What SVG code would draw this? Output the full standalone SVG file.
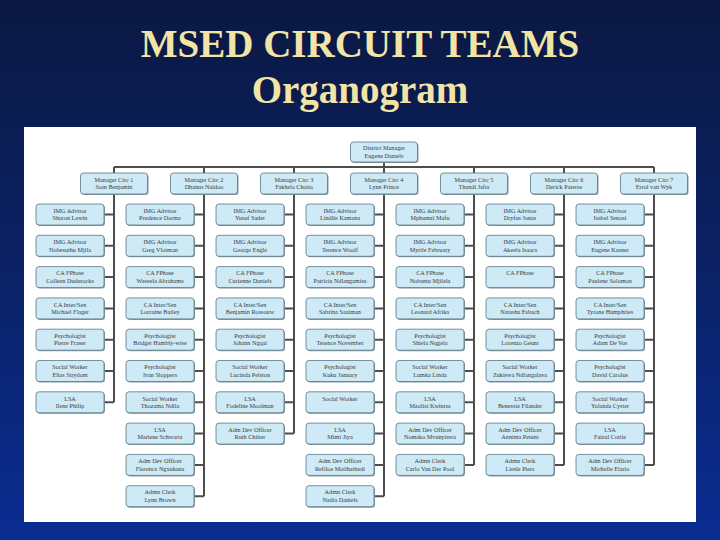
<svg xmlns="http://www.w3.org/2000/svg" width="720" height="540" viewBox="0 0 720 540">
<defs>
<linearGradient id="bg" x1="0" y1="0" x2="0" y2="1">
<stop offset="0" stop-color="#0a1842"/>
<stop offset="0.5" stop-color="#0b2266"/>
<stop offset="1" stop-color="#0a2c92"/>
</linearGradient>
<style>
.b{fill:#cdeaf6;stroke:#5b7784;stroke-width:0.8}
.s{fill:#8a9aa2}
.t{font-family:"Liberation Serif","Times New Roman",serif;font-size:6.2px;fill:#3a3a3a;text-anchor:middle}
.title{font-family:"Liberation Serif","Times New Roman",serif;font-weight:bold;font-size:39px;fill:#f2e4a6;text-anchor:middle}
.ln{fill:none;stroke:#4d4d4d;stroke-width:2}
</style>
</defs>
<rect width="720" height="540" fill="url(#bg)"/>
<text class="title" x="360" y="57">MSED CIRCUIT TEAMS</text>
<text class="title" x="360" y="103">Organogram</text>
<rect x="24" y="127" width="672" height="395" fill="#ffffff"/>

<g id="connectors">
<path class="ln" d="M114 167H654M384 162V167"/>
<path class="ln" d="M114 167V402.3M204 167V496.2M294 167V433.6M384 167V496.2M474 167V464.9M564 167V464.9M654 167V464.9"/>
<path class="ln" d="M104 214.5H114M104 245.8H114M104 277.1H114M104 308.4H114M104 339.7H114M104 371H114M104 402.3H114"/>
<path class="ln" d="M194 214.5H204M194 245.8H204M194 277.1H204M194 308.4H204M194 339.7H204M194 371H204M194 402.3H204M194 433.6H204M194 464.9H204M194 496.2H204"/>
<path class="ln" d="M284 214.5H294M284 245.8H294M284 277.1H294M284 308.4H294M284 339.7H294M284 371H294M284 402.3H294M284 433.6H294"/>
<path class="ln" d="M374 214.5H384M374 245.8H384M374 277.1H384M374 308.4H384M374 339.7H384M374 371H384M374 402.3H384M374 433.6H384M374 464.9H384M374 496.2H384"/>
<path class="ln" d="M464 214.5H474M464 245.8H474M464 277.1H474M464 308.4H474M464 339.7H474M464 371H474M464 402.3H474M464 433.6H474M464 464.9H474"/>
<path class="ln" d="M554 214.5H564M554 245.8H564M554 277.1H564M554 308.4H564M554 339.7H564M554 371H564M554 402.3H564M554 433.6H564M554 464.9H564"/>
<path class="ln" d="M644 214.5H654M644 245.8H654M644 277.1H654M644 308.4H654M644 339.7H654M644 371H654M644 402.3H654M644 433.6H654M644 464.9H654"/>
</g>

<g id="district" transform="translate(350.5,142)"><rect class="s" x="1" y="1" width="67" height="20" rx="3"/><rect class="b" width="67" height="20" rx="3"/><text class="t" x="33.5" y="8.3">District Manager</text><text class="t" x="33.5" y="15.8">Eugene Daniels</text></g>

<g id="m1" transform="translate(80.5,173)"><rect class="s" x="1" y="1" width="67" height="21" rx="3"/><rect class="b" width="67" height="21" rx="3"/><text class="t" x="33.5" y="8.8">Manager Circ 1</text><text class="t" x="33.5" y="16.3">Joan Benjamin</text></g>
<g id="m2" transform="translate(170.5,173)"><rect class="s" x="1" y="1" width="67" height="21" rx="3"/><rect class="b" width="67" height="21" rx="3"/><text class="t" x="33.5" y="8.8">Manager Circ 2</text><text class="t" x="33.5" y="16.3">Dhanus Naidoo</text></g>
<g id="m3" transform="translate(260.5,173)"><rect class="s" x="1" y="1" width="67" height="21" rx="3"/><rect class="b" width="67" height="21" rx="3"/><text class="t" x="33.5" y="8.8">Manager Circ 3</text><text class="t" x="33.5" y="16.3">Fakhela Chotia</text></g>
<g id="m4" transform="translate(350.5,173)"><rect class="s" x="1" y="1" width="67" height="21" rx="3"/><rect class="b" width="67" height="21" rx="3"/><text class="t" x="33.5" y="8.8">Manager Circ 4</text><text class="t" x="33.5" y="16.3">Lynn Prince</text></g>
<g id="m5" transform="translate(440.5,173)"><rect class="s" x="1" y="1" width="67" height="21" rx="3"/><rect class="b" width="67" height="21" rx="3"/><text class="t" x="33.5" y="8.8">Manager Circ 5</text><text class="t" x="33.5" y="16.3">Thandi Jafta</text></g>
<g id="m6" transform="translate(530.5,173)"><rect class="s" x="1" y="1" width="67" height="21" rx="3"/><rect class="b" width="67" height="21" rx="3"/><text class="t" x="33.5" y="8.8">Manager Circ 6</text><text class="t" x="33.5" y="16.3">Derick Paterse</text></g>
<g id="m7" transform="translate(620.5,173)"><rect class="s" x="1" y="1" width="67" height="21" rx="3"/><rect class="b" width="67" height="21" rx="3"/><text class="t" x="33.5" y="8.8">Manager Circ 7</text><text class="t" x="33.5" y="16.3">Errol van Wyk</text></g>

<!-- Column 1 -->
<g id="c1r1" transform="translate(36,204)"><rect class="s" x="1" y="1" width="68" height="21" rx="3"/><rect class="b" width="68" height="21" rx="3"/><text class="t" x="34" y="8.8">IMG Advisor</text><text class="t" x="34" y="16.3">Sharon Lewin</text></g>
<g id="c1r2" transform="translate(36,235.3)"><rect class="s" x="1" y="1" width="68" height="21" rx="3"/><rect class="b" width="68" height="21" rx="3"/><text class="t" x="34" y="8.8">IMG Advisor</text><text class="t" x="34" y="16.3">Nobesuthu Mjila</text></g>
<g id="c1r3" transform="translate(36,266.6)"><rect class="s" x="1" y="1" width="68" height="21" rx="3"/><rect class="b" width="68" height="21" rx="3"/><text class="t" x="34" y="8.8">CA FPhase</text><text class="t" x="34" y="16.3">Colleen Duderocks</text></g>
<g id="c1r4" transform="translate(36,297.9)"><rect class="s" x="1" y="1" width="68" height="21" rx="3"/><rect class="b" width="68" height="21" rx="3"/><text class="t" x="34" y="8.8">CA Inter/Sen</text><text class="t" x="34" y="16.3">Michael Flager</text></g>
<g id="c1r5" transform="translate(36,329.2)"><rect class="s" x="1" y="1" width="68" height="21" rx="3"/><rect class="b" width="68" height="21" rx="3"/><text class="t" x="34" y="8.8">Psychologist</text><text class="t" x="34" y="16.3">Pierre Fraser</text></g>
<g id="c1r6" transform="translate(36,360.5)"><rect class="s" x="1" y="1" width="68" height="21" rx="3"/><rect class="b" width="68" height="21" rx="3"/><text class="t" x="34" y="8.8">Social Worker</text><text class="t" x="34" y="16.3">Elias Strydom</text></g>
<g id="c1r7" transform="translate(36,391.8)"><rect class="s" x="1" y="1" width="68" height="21" rx="3"/><rect class="b" width="68" height="21" rx="3"/><text class="t" x="34" y="8.8">LSA</text><text class="t" x="34" y="16.3">Ilene Philip</text></g>

<!-- Column 2 -->
<g id="c2r1" transform="translate(126,204)"><rect class="s" x="1" y="1" width="68" height="21" rx="3"/><rect class="b" width="68" height="21" rx="3"/><text class="t" x="34" y="8.8">IMG Advisor</text><text class="t" x="34" y="16.3">Prudence Dorma</text></g>
<g id="c2r2" transform="translate(126,235.3)"><rect class="s" x="1" y="1" width="68" height="21" rx="3"/><rect class="b" width="68" height="21" rx="3"/><text class="t" x="34" y="8.8">IMG Advisor</text><text class="t" x="34" y="16.3">Greg Vlotman</text></g>
<g id="c2r3" transform="translate(126,266.6)"><rect class="s" x="1" y="1" width="68" height="21" rx="3"/><rect class="b" width="68" height="21" rx="3"/><text class="t" x="34" y="8.8">CA FPhase</text><text class="t" x="34" y="16.3">Waseela Abrahams</text></g>
<g id="c2r4" transform="translate(126,297.9)"><rect class="s" x="1" y="1" width="68" height="21" rx="3"/><rect class="b" width="68" height="21" rx="3"/><text class="t" x="34" y="8.8">CA Inter/Sen</text><text class="t" x="34" y="16.3">Lorraine Bailey</text></g>
<g id="c2r5" transform="translate(126,329.2)"><rect class="s" x="1" y="1" width="68" height="21" rx="3"/><rect class="b" width="68" height="21" rx="3"/><text class="t" x="34" y="8.8">Psychologist</text><text class="t" x="34" y="16.3">Bridget Hambly-wise</text></g>
<g id="c2r6" transform="translate(126,360.5)"><rect class="s" x="1" y="1" width="68" height="21" rx="3"/><rect class="b" width="68" height="21" rx="3"/><text class="t" x="34" y="8.8">Psychologist</text><text class="t" x="34" y="16.3">Ivan Sloppers</text></g>
<g id="c2r7" transform="translate(126,391.8)"><rect class="s" x="1" y="1" width="68" height="21" rx="3"/><rect class="b" width="68" height="21" rx="3"/><text class="t" x="34" y="8.8">Social Worker</text><text class="t" x="34" y="16.3">Thozama Ndila</text></g>
<g id="c2r8" transform="translate(126,423.1)"><rect class="s" x="1" y="1" width="68" height="21" rx="3"/><rect class="b" width="68" height="21" rx="3"/><text class="t" x="34" y="8.8">LSA</text><text class="t" x="34" y="16.3">Marlene Schwartz</text></g>
<g id="c2r9" transform="translate(126,454.4)"><rect class="s" x="1" y="1" width="68" height="21" rx="3"/><rect class="b" width="68" height="21" rx="3"/><text class="t" x="34" y="8.8">Adm Dev Officer</text><text class="t" x="34" y="16.3">Florence Ngxukana</text></g>
<g id="c2r10" transform="translate(126,485.7)"><rect class="s" x="1" y="1" width="68" height="21" rx="3"/><rect class="b" width="68" height="21" rx="3"/><text class="t" x="34" y="8.8">Admn Clerk</text><text class="t" x="34" y="16.3">Lynn Brown</text></g>

<!-- Column 3 -->
<g id="c3r1" transform="translate(216,204)"><rect class="s" x="1" y="1" width="68" height="21" rx="3"/><rect class="b" width="68" height="21" rx="3"/><text class="t" x="34" y="8.8">IMG Advisor</text><text class="t" x="34" y="16.3">Yusuf Sader</text></g>
<g id="c3r2" transform="translate(216,235.3)"><rect class="s" x="1" y="1" width="68" height="21" rx="3"/><rect class="b" width="68" height="21" rx="3"/><text class="t" x="34" y="8.8">IMG Advisor</text><text class="t" x="34" y="16.3">George Engle</text></g>
<g id="c3r3" transform="translate(216,266.6)"><rect class="s" x="1" y="1" width="68" height="21" rx="3"/><rect class="b" width="68" height="21" rx="3"/><text class="t" x="34" y="8.8">CA FPhase</text><text class="t" x="34" y="16.3">Curienne Daniels</text></g>
<g id="c3r4" transform="translate(216,297.9)"><rect class="s" x="1" y="1" width="68" height="21" rx="3"/><rect class="b" width="68" height="21" rx="3"/><text class="t" x="34" y="8.8">CA Inter/Sen</text><text class="t" x="34" y="16.3">Benjamin Rossouw</text></g>
<g id="c3r5" transform="translate(216,329.2)"><rect class="s" x="1" y="1" width="68" height="21" rx="3"/><rect class="b" width="68" height="21" rx="3"/><text class="t" x="34" y="8.8">Psychologist</text><text class="t" x="34" y="16.3">Johann Ngqai</text></g>
<g id="c3r6" transform="translate(216,360.5)"><rect class="s" x="1" y="1" width="68" height="21" rx="3"/><rect class="b" width="68" height="21" rx="3"/><text class="t" x="34" y="8.8">Social Worker</text><text class="t" x="34" y="16.3">Lucinda Pelston</text></g>
<g id="c3r7" transform="translate(216,391.8)"><rect class="s" x="1" y="1" width="68" height="21" rx="3"/><rect class="b" width="68" height="21" rx="3"/><text class="t" x="34" y="8.8">LSA</text><text class="t" x="34" y="16.3">Fodeline Moolman</text></g>
<g id="c3r8" transform="translate(216,423.1)"><rect class="s" x="1" y="1" width="68" height="21" rx="3"/><rect class="b" width="68" height="21" rx="3"/><text class="t" x="34" y="8.8">Adm Dev Officer</text><text class="t" x="34" y="16.3">Ruth Chitter</text></g>

<!-- Column 4 -->
<g id="c4r1" transform="translate(306,204)"><rect class="s" x="1" y="1" width="68" height="21" rx="3"/><rect class="b" width="68" height="21" rx="3"/><text class="t" x="34" y="8.8">IMG Advisor</text><text class="t" x="34" y="16.3">Lindile Kamana</text></g>
<g id="c4r2" transform="translate(306,235.3)"><rect class="s" x="1" y="1" width="68" height="21" rx="3"/><rect class="b" width="68" height="21" rx="3"/><text class="t" x="34" y="8.8">IMG Advisor</text><text class="t" x="34" y="16.3">Terence Woolf</text></g>
<g id="c4r3" transform="translate(306,266.6)"><rect class="s" x="1" y="1" width="68" height="21" rx="3"/><rect class="b" width="68" height="21" rx="3"/><text class="t" x="34" y="8.8">CA FPhase</text><text class="t" x="34" y="16.3">Patricia Ndlangamisa</text></g>
<g id="c4r4" transform="translate(306,297.9)"><rect class="s" x="1" y="1" width="68" height="21" rx="3"/><rect class="b" width="68" height="21" rx="3"/><text class="t" x="34" y="8.8">CA Inter/Sen</text><text class="t" x="34" y="16.3">Sabrina Saaiman</text></g>
<g id="c4r5" transform="translate(306,329.2)"><rect class="s" x="1" y="1" width="68" height="21" rx="3"/><rect class="b" width="68" height="21" rx="3"/><text class="t" x="34" y="8.8">Psychologist</text><text class="t" x="34" y="16.3">Terence November</text></g>
<g id="c4r6" transform="translate(306,360.5)"><rect class="s" x="1" y="1" width="68" height="21" rx="3"/><rect class="b" width="68" height="21" rx="3"/><text class="t" x="34" y="8.8">Psychologist</text><text class="t" x="34" y="16.3">Kuku January</text></g>
<g id="c4r7" transform="translate(306,391.8)"><rect class="s" x="1" y="1" width="68" height="21" rx="3"/><rect class="b" width="68" height="21" rx="3"/><text class="t" x="34" y="8.8">Social Worker</text></g>
<g id="c4r8" transform="translate(306,423.1)"><rect class="s" x="1" y="1" width="68" height="21" rx="3"/><rect class="b" width="68" height="21" rx="3"/><text class="t" x="34" y="8.8">LSA</text><text class="t" x="34" y="16.3">Mimi Jiya</text></g>
<g id="c4r9" transform="translate(306,454.4)"><rect class="s" x="1" y="1" width="68" height="21" rx="3"/><rect class="b" width="68" height="21" rx="3"/><text class="t" x="34" y="8.8">Adm Dev Officer</text><text class="t" x="34" y="16.3">Refiloe Motlhathedi</text></g>
<g id="c4r10" transform="translate(306,485.7)"><rect class="s" x="1" y="1" width="68" height="21" rx="3"/><rect class="b" width="68" height="21" rx="3"/><text class="t" x="34" y="8.8">Admn Clerk</text><text class="t" x="34" y="16.3">Nadia Daniels</text></g>

<!-- Column 5 -->
<g id="c5r1" transform="translate(396,204)"><rect class="s" x="1" y="1" width="68" height="21" rx="3"/><rect class="b" width="68" height="21" rx="3"/><text class="t" x="34" y="8.8">IMG Advisor</text><text class="t" x="34" y="16.3">Mphumzi Mafu</text></g>
<g id="c5r2" transform="translate(396,235.3)"><rect class="s" x="1" y="1" width="68" height="21" rx="3"/><rect class="b" width="68" height="21" rx="3"/><text class="t" x="34" y="8.8">IMG Advisor</text><text class="t" x="34" y="16.3">Myrtle February</text></g>
<g id="c5r3" transform="translate(396,266.6)"><rect class="s" x="1" y="1" width="68" height="21" rx="3"/><rect class="b" width="68" height="21" rx="3"/><text class="t" x="34" y="8.8">CA FPhase</text><text class="t" x="34" y="16.3">Nobantu Mjilela</text></g>
<g id="c5r4" transform="translate(396,297.9)"><rect class="s" x="1" y="1" width="68" height="21" rx="3"/><rect class="b" width="68" height="21" rx="3"/><text class="t" x="34" y="8.8">CA Inter/Sen</text><text class="t" x="34" y="16.3">Leonard Afrika</text></g>
<g id="c5r5" transform="translate(396,329.2)"><rect class="s" x="1" y="1" width="68" height="21" rx="3"/><rect class="b" width="68" height="21" rx="3"/><text class="t" x="34" y="8.8">Psychologist</text><text class="t" x="34" y="16.3">Shiela Nqgela</text></g>
<g id="c5r6" transform="translate(396,360.5)"><rect class="s" x="1" y="1" width="68" height="21" rx="3"/><rect class="b" width="68" height="21" rx="3"/><text class="t" x="34" y="8.8">Social Worker</text><text class="t" x="34" y="16.3">Lumka Linda</text></g>
<g id="c5r7" transform="translate(396,391.8)"><rect class="s" x="1" y="1" width="68" height="21" rx="3"/><rect class="b" width="68" height="21" rx="3"/><text class="t" x="34" y="8.8">LSA</text><text class="t" x="34" y="16.3">Mzolisi Kwintsa</text></g>
<g id="c5r8" transform="translate(396,423.1)"><rect class="s" x="1" y="1" width="68" height="21" rx="3"/><rect class="b" width="68" height="21" rx="3"/><text class="t" x="34" y="8.8">Adm Dev Officer</text><text class="t" x="34" y="16.3">Nomako Mvunyiswa</text></g>
<g id="c5r9" transform="translate(396,454.4)"><rect class="s" x="1" y="1" width="68" height="21" rx="3"/><rect class="b" width="68" height="21" rx="3"/><text class="t" x="34" y="8.8">Admn Clerk</text><text class="t" x="34" y="16.3">Carlo Van Der Pool</text></g>

<!-- Column 6 -->
<g id="c6r1" transform="translate(486,204)"><rect class="s" x="1" y="1" width="68" height="21" rx="3"/><rect class="b" width="68" height="21" rx="3"/><text class="t" x="34" y="8.8">IMG Advisor</text><text class="t" x="34" y="16.3">Dryfus Jonas</text></g>
<g id="c6r2" transform="translate(486,235.3)"><rect class="s" x="1" y="1" width="68" height="21" rx="3"/><rect class="b" width="68" height="21" rx="3"/><text class="t" x="34" y="8.8">IMG Advisor</text><text class="t" x="34" y="16.3">Akeela Isaacs</text></g>
<g id="c6r3" transform="translate(486,266.6)"><rect class="s" x="1" y="1" width="68" height="21" rx="3"/><rect class="b" width="68" height="21" rx="3"/><text class="t" x="34" y="8.8">CA FPhase</text></g>
<g id="c6r4" transform="translate(486,297.9)"><rect class="s" x="1" y="1" width="68" height="21" rx="3"/><rect class="b" width="68" height="21" rx="3"/><text class="t" x="34" y="8.8">CA Inter/Sen</text><text class="t" x="34" y="16.3">Natasha Esbach</text></g>
<g id="c6r5" transform="translate(486,329.2)"><rect class="s" x="1" y="1" width="68" height="21" rx="3"/><rect class="b" width="68" height="21" rx="3"/><text class="t" x="34" y="8.8">Psychologist</text><text class="t" x="34" y="16.3">Lorenzo Geunt</text></g>
<g id="c6r6" transform="translate(486,360.5)"><rect class="s" x="1" y="1" width="68" height="21" rx="3"/><rect class="b" width="68" height="21" rx="3"/><text class="t" x="34" y="8.8">Social Worker</text><text class="t" x="34" y="16.3">Zukiswa Ndlangalava</text></g>
<g id="c6r7" transform="translate(486,391.8)"><rect class="s" x="1" y="1" width="68" height="21" rx="3"/><rect class="b" width="68" height="21" rx="3"/><text class="t" x="34" y="8.8">LSA</text><text class="t" x="34" y="16.3">Benessie Filander</text></g>
<g id="c6r8" transform="translate(486,423.1)"><rect class="s" x="1" y="1" width="68" height="21" rx="3"/><rect class="b" width="68" height="21" rx="3"/><text class="t" x="34" y="8.8">Adm Dev Officer</text><text class="t" x="34" y="16.3">Annima Petunt</text></g>
<g id="c6r9" transform="translate(486,454.4)"><rect class="s" x="1" y="1" width="68" height="21" rx="3"/><rect class="b" width="68" height="21" rx="3"/><text class="t" x="34" y="8.8">Admn Clerk</text><text class="t" x="34" y="16.3">Liesle Piers</text></g>

<!-- Column 7 -->
<g id="c7r1" transform="translate(576,204)"><rect class="s" x="1" y="1" width="68" height="21" rx="3"/><rect class="b" width="68" height="21" rx="3"/><text class="t" x="34" y="8.8">IMG Advisor</text><text class="t" x="34" y="16.3">Isabel Senosi</text></g>
<g id="c7r2" transform="translate(576,235.3)"><rect class="s" x="1" y="1" width="68" height="21" rx="3"/><rect class="b" width="68" height="21" rx="3"/><text class="t" x="34" y="8.8">IMG Advisor</text><text class="t" x="34" y="16.3">Eugene Kasner</text></g>
<g id="c7r3" transform="translate(576,266.6)"><rect class="s" x="1" y="1" width="68" height="21" rx="3"/><rect class="b" width="68" height="21" rx="3"/><text class="t" x="34" y="8.8">CA FPhase</text><text class="t" x="34" y="16.3">Paulene Solomon</text></g>
<g id="c7r4" transform="translate(576,297.9)"><rect class="s" x="1" y="1" width="68" height="21" rx="3"/><rect class="b" width="68" height="21" rx="3"/><text class="t" x="34" y="8.8">CA Inter/Sen</text><text class="t" x="34" y="16.3">Tyrone Humphries</text></g>
<g id="c7r5" transform="translate(576,329.2)"><rect class="s" x="1" y="1" width="68" height="21" rx="3"/><rect class="b" width="68" height="21" rx="3"/><text class="t" x="34" y="8.8">Psychologist</text><text class="t" x="34" y="16.3">Adam De Vos</text></g>
<g id="c7r6" transform="translate(576,360.5)"><rect class="s" x="1" y="1" width="68" height="21" rx="3"/><rect class="b" width="68" height="21" rx="3"/><text class="t" x="34" y="8.8">Psychologist</text><text class="t" x="34" y="16.3">David Carolus</text></g>
<g id="c7r7" transform="translate(576,391.8)"><rect class="s" x="1" y="1" width="68" height="21" rx="3"/><rect class="b" width="68" height="21" rx="3"/><text class="t" x="34" y="8.8">Social Worker</text><text class="t" x="34" y="16.3">Yolanda Cyster</text></g>
<g id="c7r8" transform="translate(576,423.1)"><rect class="s" x="1" y="1" width="68" height="21" rx="3"/><rect class="b" width="68" height="21" rx="3"/><text class="t" x="34" y="8.8">LSA</text><text class="t" x="34" y="16.3">Faizal Cottle</text></g>
<g id="c7r9" transform="translate(576,454.4)"><rect class="s" x="1" y="1" width="68" height="21" rx="3"/><rect class="b" width="68" height="21" rx="3"/><text class="t" x="34" y="8.8">Adm Dev Officer</text><text class="t" x="34" y="16.3">Michelle Elario</text></g>
</svg>
